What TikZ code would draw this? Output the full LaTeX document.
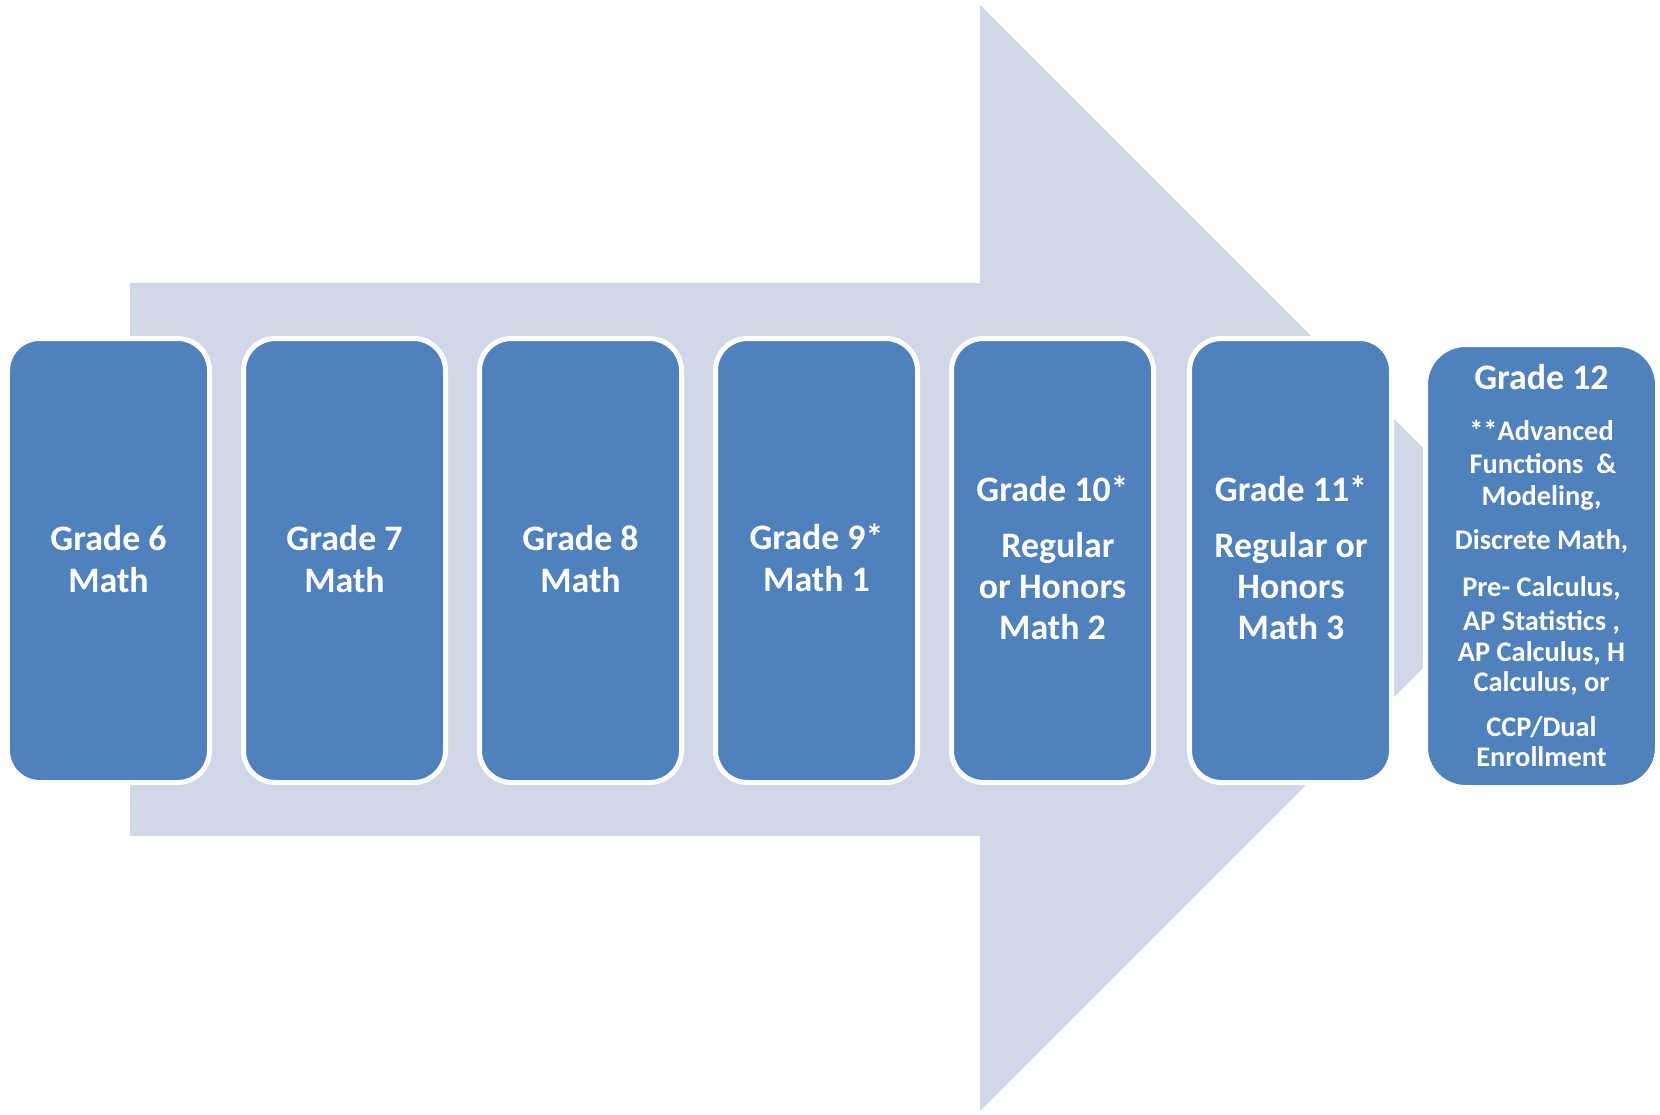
\documentclass[tikz,border=0pt]{standalone}
\usepackage{fontspec}
\setmainfont{Carlito}
\definecolor{arrowfill}{HTML}{D0D8E8}
\definecolor{boxblue}{HTML}{4F81BD}
\begin{document}
\begin{tikzpicture}[x=1bp,y=-1bp,
  gbox/.style={rectangle, rounded corners=32bp, fill=boxblue, draw=white, line width=5bp,
    minimum width=202bp, minimum height=444bp, inner sep=0pt},
  lastbox/.style={rectangle, rounded corners=40bp, fill=boxblue, draw=white, line width=5bp,
    minimum width=232bp, minimum height=443bp, inner sep=0pt},
  big/.style={anchor=base, text=white, inner sep=0pt, font=\fontsize{36}{42}\selectfont\bfseries},
  small/.style={anchor=base, text=white, inner sep=0pt, font=\fontsize{28.5}{33}\selectfont\bfseries}]
\useasboundingbox (0,0) rectangle (1660,1114);
% big background arrow
\fill[arrowfill] (130,283) -- (980,283) -- (980,5) -- (1533,558) -- (980,1111) -- (980,836) -- (130,836) -- cycle;
% boxes
\node[gbox] (b6) at (108.5,560.5) {};
\node[gbox] (b7) at (344.5,560.5) {};
\node[gbox] (b8) at (580.5,560.5) {};
\node[gbox] (b9) at (816.5,560.5) {};
\node[gbox] (b10) at (1052.5,560.5) {};
\node[gbox] (b11) at (1290.5,560.5) {};
\node[lastbox] (b12) at (1541.5,566) {};
% texts
\node[big] (t6a) at (108.5,550) {Grade 6};
\node[big] (t6b) at (108.5,592) {Math};
\node[big] (t7a) at (344.5,550) {Grade 7};
\node[big] (t7b) at (344.5,592) {Math};
\node[big] (t8a) at (580.5,550) {Grade 8};
\node[big] (t8b) at (580.5,592) {Math};
\node[big] (t9a) at (816.5,549) {Grade 9*};
\node[big] (t9b) at (816.5,591) {Math 1};
\node[big] (t10a) at (1052.5,501) {Grade 10*};
\node[big] (t10b) at (1058,557) {Regular};
\node[big] (t10c) at (1052.5,598) {or Honors};
\node[big] (t10d) at (1052.5,639) {Math 2};
\node[big] (t11a) at (1291,501) {Grade 11*};
\node[big] (t11b) at (1291,557) {Regular or};
\node[big] (t11c) at (1291,598) {Honors};
\node[big] (t11d) at (1291,639) {Math 3};
\node[big] (t12a) at (1541.5,389) {Grade 12};
\node[small] (t12b) at (1541.5,440) {**Advanced};
\node[small] (t12c) at (1543,473) {Functions\ \ \&};
\node[small] (t12d) at (1541.5,505) {Modeling,};
\node[small] (t12e) at (1541.5,549) {Discrete Math,};
\node[small] (t12f) at (1541.5,596) {Pre- Calculus,};
\node[small] (t12g) at (1541.5,630) {AP Statistics ,};
\node[small] (t12h) at (1541.5,661) {AP Calculus, H};
\node[small] (t12i) at (1541.5,691) {Calculus, or};
\node[small] (t12j) at (1541.5,736) {CCP/Dual};
\node[small] (t12k) at (1541.5,766) {Enrollment};
\end{tikzpicture}
\end{document}
